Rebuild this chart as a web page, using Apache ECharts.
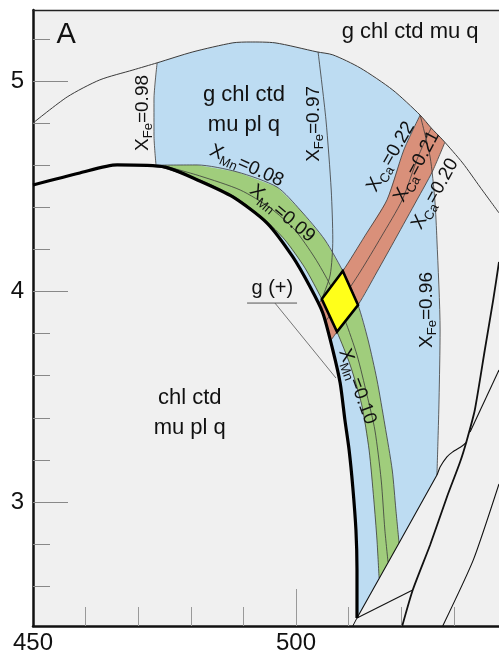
<!DOCTYPE html>
<html><head><meta charset="utf-8">
<script src="https://cdn.jsdelivr.net/npm/echarts@6/dist/echarts.min.js"></script>
<style>html,body{margin:0;padding:0;background:#fff}#c{width:499px;height:657px}</style>
</head><body><div id="c"></div>
<script>
// ---- axis ticks / labels ----
const xMinorTicks = [460, 470, 480, 490, 510, 520, 530];
const xMajorTicks = [500];
const xLabels = [450, 500];
const yMinorTicks = [2.6, 2.8, 3.2, 3.4, 3.6, 3.8, 4.2, 4.4, 4.6, 4.8, 5.2];
const yMajorTicks = [3, 4, 5];
const yLabels = [3, 4, 5];

// ---- boundaries (T °C, P kbar) ----
const gInThick = [[450.0,4.506],[458.9,4.563],[466.0,4.601],[475.1,4.591],[481.7,4.525],[488.0,4.449],[494.5,4.325],[499.4,4.164],[502.7,4.021],[505.1,3.898],[507.0,3.722],[508.4,3.565],[509.3,3.390],[510.1,3.247],[510.8,3.071],[511.4,2.867],[511.6,2.677],[511.6,2.449]];
const topCurve = [[450.0,4.800],[456.5,4.924],[462.7,5.005],[469.0,5.052],[473.6,5.086],[480.4,5.138],[488.0,5.181],[491.3,5.185],[496.0,5.181],[504.0,5.138],[507.0,5.124],[512.2,5.062],[518.4,4.957],[523.6,4.838],[525.7,4.777],[527.9,4.720],[531.7,4.610],[535.0,4.496],[538.6,4.373]];
const xFe098 = [[473.6,5.086],[473.0,4.910],[473.0,4.743],[473.4,4.597]];
const xFe097 = [[504.2,5.138],[505.7,4.815],[506.7,4.482],[507.0,4.245],[506.5,4.078],[504.9,3.964]];
const xFe096 = [[523.6,4.838],[525.5,4.639],[526.4,4.435],[526.8,4.245],[527.4,3.817],[527.2,3.485],[527.0,3.295],[526.8,3.128]];
const xMn008 = [[473.6,4.600],[481.2,4.601],[488.8,4.568],[496.4,4.496],[500.8,4.387],[505.5,4.245],[509.3,4.078],[511.8,3.936],[513.7,3.770],[515.4,3.580],[516.9,3.366],[518.3,3.152],[519.0,2.962],[519.6,2.805]];
const xMn009 = [[475.1,4.596],[481.7,4.549],[489.4,4.482],[495.1,4.397],[499.8,4.292],[503.6,4.159],[506.5,4.031],[509.3,3.865],[511.6,3.698],[513.5,3.508],[515.0,3.342],[516.2,3.105],[516.9,2.867],[517.5,2.715]];
const xMn010 = [[473.6,4.597],[481.7,4.530],[488.4,4.449],[494.1,4.340],[497.9,4.245],[501.7,4.112],[504.9,3.964],[507.8,3.808],[510.3,3.651],[512.5,3.461],[513.9,3.247],[514.8,3.010],[515.4,2.819],[515.8,2.639]];
const xCa022 = [[523.6,4.838],[520.5,4.672],[517.3,4.435],[513.1,4.264],[508.9,4.097],[504.9,3.964],[504.2,3.936]];
const xCa021 = [[525.7,4.777],[523.2,4.639],[520.2,4.435],[516.2,4.259],[512.2,4.093],[508.4,3.950],[505.5,3.855]];
const xCa020 = [[528.3,4.708],[525.9,4.568],[523.0,4.435],[519.0,4.254],[515.4,4.093],[511.8,3.936],[507.8,3.808],[506.7,3.770]];
const diamond = [[508.9,4.097],[511.8,3.936],[507.8,3.808],[504.9,3.964]];
const wedgeLeft = [[511.6,2.449],[526.8,3.128],[527.4,3.166],[528.7,3.214],[529.8,3.238],[531.6,3.266],[532.5,3.285]];
const wedgeBottom = [[511.6,2.449],[522.2,2.582]];
const jTail = [[511.6,2.449],[510.8,2.411]];
const lineA = [[520.2,2.411],[522.2,2.582],[525.5,2.796],[528.7,3.024],[531.2,3.190],[532.5,3.295],[534.0,3.437],[535.9,3.722],[537.5,3.960],[538.6,4.140]];
const lineC = [[527.9,2.411],[533.7,2.724],[538.6,3.086]];
const lineD = [[533.1,3.333],[538.6,3.627]];
const gPlusUnder = [[490.7,3.945],[500.2,3.945]];
const gPlusLeader = [[496.0,3.945],[507.6,3.589]];

// ---- labels ----
const fieldLabels = [
  {t:'A', x:456.3, y:5.219, size:29},
  {t:'g chl ctd mu q', x:521.7, y:5.233, size:22},
  {t:'g chl ctd', x:490.1, y:4.933, size:22},
  {t:'mu pl q', x:490.1, y:4.791, size:22},
  {t:'chl ctd', x:479.8, y:3.494, size:22},
  {t:'mu pl q', x:479.8, y:3.352, size:22},
  {t:'g (+)', x:495.5, y:4.012, size:20}
];
const isoLabels = [
  {sub:'Fe', val:'0.98', x:471.1, y:4.848, rot:90},
  {sub:'Fe', val:'0.97', x:503.6, y:4.796, rot:90},
  {sub:'Fe', val:'0.96', x:525.1, y:3.912, rot:90},
  {sub:'Mn', val:'0.08', x:490.5, y:4.591, rot:-24},
  {sub:'Mn', val:'0.09', x:497.2, y:4.365, rot:-40},
  {sub:'Mn', val:'0.10', x:511.4, y:3.546, rot:-70},
  {sub:'Ca', val:'0.22', x:518.3, y:4.637, rot:60},
  {sub:'Ca', val:'0.21', x:523.2, y:4.591, rot:62},
  {sub:'Ca', val:'0.20', x:526.7, y:4.460, rot:61}
];

const FONT = '"Liberation Sans", Arial, sans-serif';
const BLUE = '#bddcf2', GREEN = '#a0cd7c', ORANGE = '#d9907a', YELLOW = '#ffff1a';

// polygons composed from the boundaries
const bluePoly = [].concat(
  topCurve.filter(p => p[0] >= 473.6 && p[0] <= 523.6),
  xFe096.slice(1),
  gInThick.filter(p => p[0] > 474).reverse(),
  xFe098.slice(1).reverse()
);
const greenPoly = xMn008.concat(xMn010.slice().reverse());
const orangePoly = [].concat(
  xCa022,
  gInThick.filter(p => p[1] < 3.936 && p[1] > 3.770),
  xCa020.slice().reverse(),
  topCurve.filter(p => p[0] > 523.6 && p[0] < 528.3).reverse()
);

function polySeries(pts, fill, z, stroke, lw) {
  return {
    type: 'custom', coordinateSystem: 'cartesian2d', z: z, silent: true, clip: true,
    data: [pts[0]],
    renderItem: function (params, api) {
      return {type: 'polygon', shape: {points: pts.map(p => api.coord(p))},
        style: {fill: fill, stroke: stroke || null, lineWidth: lw || 0, lineJoin: 'miter'}};
    }
  };
}
function lineSeries(pts, color, width, z, smooth) {
  return {type: 'line', data: pts, symbol: 'none', showSymbol: false, silent: true, z: z,
    smooth: smooth === undefined ? 0.25 : smooth,
    lineStyle: {color: color, width: width}};
}

const richBase = {
  m: {fontSize: 19, fontFamily: FONT, fill: '#111', lineHeight: 22, verticalAlign: 'top'},
  s: {fontSize: 13, fontFamily: FONT, fill: '#111', lineHeight: 15, padding: [9, 0, 0, 0], verticalAlign: 'bottom'}
};

const textSeries = {
  type: 'custom', coordinateSystem: 'cartesian2d', z: 20, silent: true, clip: false,
  data: fieldLabels.map(l => [l.x, l.y]),
  renderItem: function (params, api) {
    const L = fieldLabels[params.dataIndex];
    const p = api.coord([L.x, L.y]);
    return {type: 'text', x: p[0], y: p[1],
      style: {text: L.t, fill: '#111', fontSize: L.size, fontFamily: FONT, align: 'center', verticalAlign: 'middle'}};
  }
};
const isoSeries = {
  type: 'custom', coordinateSystem: 'cartesian2d', z: 20, silent: true, clip: false,
  data: isoLabels.map(l => [l.x, l.y]),
  renderItem: function (params, api) {
    const L = isoLabels[params.dataIndex];
    const p = api.coord([L.x, L.y]);
    return {type: 'text', x: p[0], y: p[1], rotation: L.rot * Math.PI / 180,
      style: {text: '{m|X}{s|' + L.sub + '}{m|=' + L.val + '}', rich: richBase,
        align: 'center', verticalAlign: 'middle', fill: '#111', fontFamily: FONT, fontSize: 19}};
  }
};

const THIN = '#3a3a3a';
const xCommon = {type: 'value', min: 450, max: 538.6, splitLine: {show: false}};
const yCommon = {type: 'value', min: 2.411, max: 5.337, splitLine: {show: false}};

const option = {
  animation: false,
  backgroundColor: '#ffffff',
  grid: {left: 33, right: 0, top: 10, bottom: 31, show: true, backgroundColor: '#f0f0f0', borderWidth: 0},
  xAxis: [
    Object.assign({}, xCommon, {position: 'bottom',
      axisLine: {show: true, onZero: false, lineStyle: {color: '#111', width: 2.5}},
      axisTick: {show: true, inside: true, length: 19, customValues: xMinorTicks, lineStyle: {color: '#999', width: 1}},
      axisLabel: {show: false}}),
    Object.assign({}, xCommon, {position: 'bottom',
      axisLine: {show: false},
      axisTick: {show: true, inside: true, length: 37, customValues: xMajorTicks, lineStyle: {color: '#999', width: 1}},
      axisLabel: {show: true, customValues: xLabels, fontSize: 24, fontFamily: FONT, color: '#111', margin: 5}}),
    Object.assign({}, xCommon, {position: 'top',
      axisLine: {show: true, onZero: false, lineStyle: {color: '#222', width: 1.3}},
      axisTick: {show: false}, axisLabel: {show: false}})
  ],
  yAxis: [
    Object.assign({}, yCommon, {position: 'left',
      axisLine: {show: true, onZero: false, lineStyle: {color: '#111', width: 2.5}},
      axisTick: {show: true, inside: true, length: 17, customValues: yMinorTicks, lineStyle: {color: '#888', width: 1}},
      axisLabel: {show: false}}),
    Object.assign({}, yCommon, {position: 'left',
      axisLine: {show: false},
      axisTick: {show: true, inside: true, length: 35, customValues: yMajorTicks, lineStyle: {color: '#888', width: 1}},
      axisLabel: {show: true, customValues: yLabels, fontSize: 24, fontFamily: FONT, color: '#111', margin: 9}})
  ],
  series: [
    polySeries(bluePoly, BLUE, 1),
    polySeries(greenPoly, GREEN, 2),
    polySeries(orangePoly, ORANGE, 3),
    lineSeries(topCurve, THIN, 1, 6),
    lineSeries(xFe098, THIN, 0.8, 6),
    lineSeries(xFe097, THIN, 0.8, 6),
    lineSeries(xFe096, THIN, 0.8, 6),
    lineSeries(xMn008, THIN, 0.8, 6),
    lineSeries(xMn009, THIN, 0.8, 6),
    lineSeries(xMn010, THIN, 0.8, 6),
    lineSeries(xCa022, THIN, 0.8, 6),
    lineSeries(xCa021, THIN, 0.8, 6),
    lineSeries(xCa020, THIN, 0.8, 6),
    lineSeries(wedgeLeft, '#111', 1.1, 6, 0.15),
    lineSeries(wedgeBottom, '#111', 1.1, 6, 0),
    lineSeries(jTail, '#111', 1, 6, 0),
    lineSeries(lineA, '#111', 1.8, 6, 0.2),
    lineSeries(lineC, '#111', 1.1, 6, 0.2),
    lineSeries(lineD, '#111', 1.1, 6, 0),
    lineSeries(gPlusUnder, '#555', 1, 6, 0),
    lineSeries(gPlusLeader, '#555', 0.8, 6, 0),
    lineSeries(gInThick, '#000', 3.2, 7, 0.25),
    polySeries(diamond, YELLOW, 8, '#000', 2.6),
    textSeries,
    isoSeries
  ]
};
const chart = echarts.init(document.getElementById('c'), null, {renderer: 'canvas'});
chart.setOption(option);
</script></body></html>
